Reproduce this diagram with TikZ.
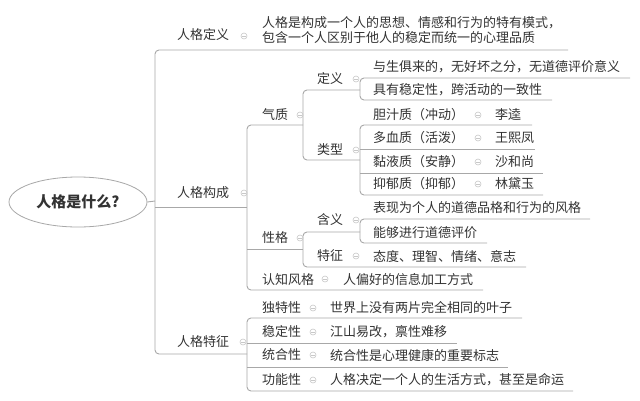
\documentclass[tikz,border=0pt]{standalone}
\usepackage{fontspec}
\usetikzlibrary{shapes.geometric}
\newfontfamily\cjk{Noto Sans CJK SC}
\definecolor{txt}{HTML}{333333}
\definecolor{lnc}{HTML}{A8A8A8}
\definecolor{colc}{HTML}{C8C8C8}
\tikzset{
  t/.style={anchor=west,inner sep=0pt,text=txt,font=\cjk\fontsize{13}{15}\selectfont},
  ln/.style={draw=lnc,line width=0.9pt,rounded corners=4pt},
  col/.style={circle,draw=colc,line width=0.6pt,minimum size=6pt,inner sep=0pt,
    path picture={\draw[colc,line width=0.6pt] ([xshift=-1.6pt]path picture bounding box.center) -- ([xshift=1.6pt]path picture bounding box.center);}},
}
\begin{document}
\begin{tikzpicture}[x=1pt,y=-1pt]
\useasboundingbox[fill=white] (0,0) rectangle (640,400);
% root
\node[ellipse,draw=lnc,line width=0.8pt,minimum width=138pt,minimum height=50pt,inner sep=0pt,text=txt,font=\cjk\bfseries\fontsize{15}{17}\selectfont] (root) at (78,202) {人格是什么?};
% level-1 lines
\coordinate (j0) at (155,201);
\draw[ln] (root.east) -- (j0);
\draw[ln] (568,50) -- (155,50) -- (155,354) -- (247,354);
\draw[ln] (155,207) -- (247,207);
% 人格构成 children
\draw[ln] (303,125) -- (247,125) -- (247,290) -- (483,290);
\draw[ln] (247,249) -- (303,249);
% 气质 children
\draw[ln] (360,90) -- (303,90) -- (303,160) -- (360,160);
\draw[ln] (630,78) -- (360,78) -- (360,100) -- (552,100);
\draw[ln] (532,125) -- (360,125) -- (360,195) -- (543,195);
\draw[ln] (360,149) -- (535,149);
\draw[ln] (360,173) -- (543,173);
% 性格 children
\draw[ln] (360,232) -- (303,232) -- (303,267) -- (526,267);
\draw[ln] (590,219) -- (360,219) -- (360,243) -- (487,243);
% 人格特征 children
\draw[ln] (522,318) -- (247,318) -- (247,391) -- (573,391);
\draw[ln] (247,343) -- (457,343);
\draw[ln] (247,367) -- (508,367);
% level-1 labels
\node[t] (a1) at (177,35) {人格定义};
\node[col] (c1) at (244,36) {};
\node[t,align=left] (a1d) at (262,30) {人格是构成一个人的思想、情感和行为的特有模式，\\包含一个人区别于他人的稳定而统一的心理品质};
\node[t] (a2) at (177,193) {人格构成};
\node[col] (c2) at (244,193) {};
\node[t] (a3) at (177,342) {人格特征};
\node[col] (c3) at (243,342) {};
% 人格构成
\node[t] (b1) at (262,115) {气质};
\node[col] (cb1) at (300,115) {};
\node[t] (b2) at (262,238) {性格};
\node[col] (cb2) at (300,238) {};
\node[t] (b3) at (262,280) {认知风格};
\node[col] (cb3) at (325,279) {};
\node[t] (b3a) at (343,280) {人偏好的信息加工方式};
% 气质
\node[t] (d1) at (317,79) {定义};
\node[col] (cd1) at (356,79) {};
\node[t] (d1a) at (373,67) {与生俱来的，无好坏之分，无道德评价意义};
\node[t] (d1b) at (373,90) {具有稳定性，跨活动的一致性};
\node[t] (d2) at (317,150) {类型};
\node[col] (cd2) at (356,150) {};
\node[t] (e1) at (373,115) {胆汁质（冲动）};
\node[col] (ce1) at (478,115) {};
\node[t] (e1a) at (495,115) {李逵};
\node[t] (e2) at (373,138) {多血质（活泼）};
\node[col] (ce2) at (478,138) {};
\node[t] (e2a) at (495,138) {王熙凤};
\node[t] (e3) at (373,162) {黏液质（安静）};
\node[col] (ce3) at (478,162) {};
\node[t] (e3a) at (495,162) {沙和尚};
\node[t] (e4) at (373,184) {抑郁质（抑郁）};
\node[col] (ce4) at (478,184) {};
\node[t] (e4a) at (495,184) {林黛玉};
% 性格
\node[t] (f1) at (317,220) {含义};
\node[col] (cf1) at (356,220) {};
\node[t] (f1a) at (373,208) {表现为个人的道德品格和行为的风格};
\node[t] (f1b) at (373,233) {能够进行道德评价};
\node[t] (f2) at (317,256) {特征};
\node[col] (cf2) at (356,256) {};
\node[t] (f2a) at (373,256) {态度、理智、情绪、意志};
% 人格特征
\node[t] (g1) at (262,308) {独特性};
\node[col] (cg1) at (313,308) {};
\node[t] (g1a) at (330,308) {世界上没有两片完全相同的叶子};
\node[t] (g2) at (262,332) {稳定性};
\node[col] (cg2) at (313,332) {};
\node[t] (g2a) at (330,332) {江山易改，禀性难移};
\node[t] (g3) at (262,355) {统合性};
\node[col] (cg3) at (313,355) {};
\node[t] (g3a) at (330,355) {统合性是心理健康的重要标志};
\node[t] (g4) at (262,380) {功能性};
\node[col] (cg4) at (313,380) {};
\node[t] (g4a) at (330,380) {人格决定一个人的生活方式，甚至是命运};
\end{tikzpicture}
\end{document}
